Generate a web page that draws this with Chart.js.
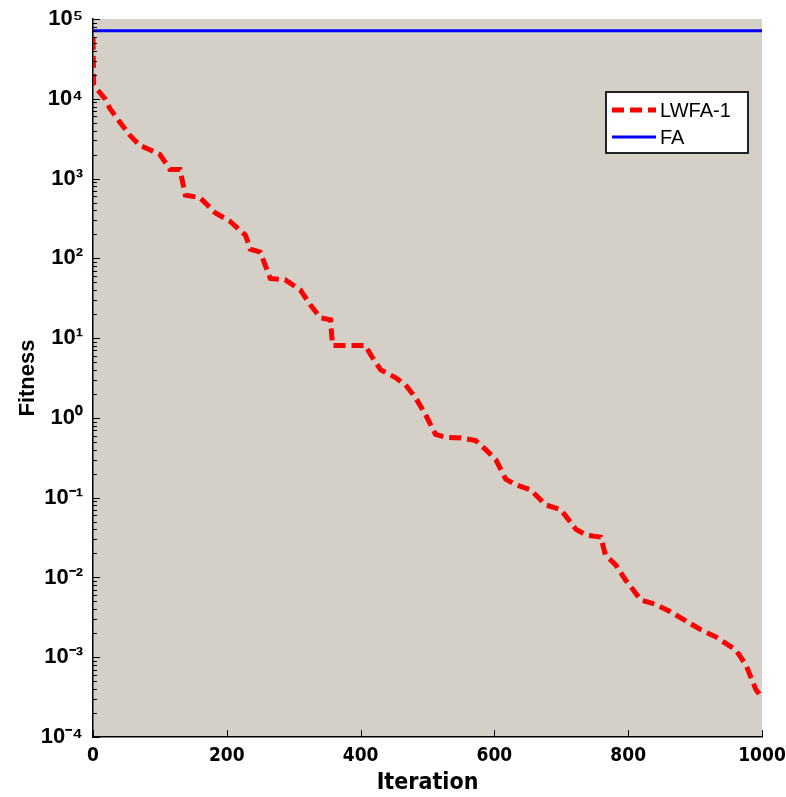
<!DOCTYPE html>
<html>
<head>
<meta charset="utf-8">
<script src="https://cdn.jsdelivr.net/npm/chart.js@4.4.1/dist/chart.umd.min.js"></script>
<style>
html,body{margin:0;padding:0;background:#fff;}
canvas{display:block;}
</style>
</head>
<body>
<canvas id="c" width="786" height="797"></canvas>
<script>
// ---- data ----
const lwfaIter = [0, 1, 3, 10, 18, 25, 40, 55, 70, 85, 100, 115, 130, 138, 160, 183, 205, 228, 235, 250, 265, 287, 310, 325, 340, 355, 358, 380, 407, 415, 430, 452, 467, 482, 497, 512, 527, 550, 572, 587, 602, 617, 632, 654, 677, 699, 722, 737, 759, 766, 781, 796, 819, 841, 864, 879, 909, 931, 961, 976, 991, 1000];
const lwfaFitness = [58000, 15000, 14000, 12000, 10000, 7600, 5100, 3500, 2600, 2300, 2000, 1300, 1300, 620, 575, 370, 290, 195, 130, 120, 56, 54, 40, 26, 18, 17, 8.1, 8.1, 8.1, 6.2, 4.0, 3.2, 2.6, 1.8, 1.1, 0.62, 0.57, 0.56, 0.52, 0.40, 0.30, 0.17, 0.145, 0.125, 0.081, 0.071, 0.040, 0.034, 0.032, 0.019, 0.0145, 0.0093, 0.0052, 0.0046, 0.0037, 0.0031, 0.0022, 0.0018, 0.00123, 0.0008, 0.00039, 0.00031];
const faIter = [0, 1000];
const faFitness = [71000, 71000];
const seriesNames = ['LWFA-1', 'FA'];
const xTicks = [0, 200, 400, 600, 800, 1000];
const yExponents = [-4, -3, -2, -1, 0, 1, 2, 3, 4, 5];

const sup = {'-':'\u207B','0':'\u2070','1':'\u00B9','2':'\u00B2','3':'\u00B3','4':'\u2074','5':'\u2075','6':'\u2076','7':'\u2077','8':'\u2078','9':'\u2079'};
const toSup = s => String(s).split('').map(ch => sup[ch] || ch).join('');

const narrowFont = '"Liberation Sans Narrow", "DejaVu Sans Condensed", "Liberation Sans", Arial, sans-serif';
const sansFont = '"Liberation Sans", Arial, sans-serif';

const plotBg = {
  id: 'plotBg',
  beforeDraw(chart) {
    const {ctx, chartArea: a} = chart;
    ctx.save();
    ctx.fillStyle = '#d4d0c8';
    ctx.fillRect(a.left, a.top, a.right - a.left, a.bottom - a.top);
    ctx.restore();
  }
};

const innerTicks = {
  id: 'innerTicks',
  afterDraw(chart) {
    const {ctx, chartArea: a} = chart;
    const xs = chart.scales.x, ys = chart.scales.y;
    ctx.save();
    ctx.strokeStyle = '#000';
    ctx.lineWidth = 1;
    ctx.beginPath();
    xTicks.forEach(v => {
      const px = Math.round(xs.getPixelForValue(v)) + 0.5;
      ctx.moveTo(px, a.bottom);
      ctx.lineTo(px, a.bottom - 7);
    });
    yExponents.forEach(k => {
      const py = Math.round(ys.getPixelForValue(Math.pow(10, k))) + 0.5;
      ctx.moveTo(a.left, py);
      ctx.lineTo(a.left + 7, py);
      if (k < 5) {
        for (let m = 2; m <= 9; m++) {
          const pm = Math.round(ys.getPixelForValue(m * Math.pow(10, k))) + 0.5;
          ctx.moveTo(a.left, pm);
          ctx.lineTo(a.left + 4, pm);
        }
      }
    });
    ctx.stroke();
    // legend box
    const bx = 606, by = 92, bw = 142, bh = 61;
    ctx.fillStyle = '#fff';
    ctx.fillRect(bx, by, bw, bh);
    ctx.strokeStyle = '#222';
    ctx.lineWidth = 2;
    ctx.strokeRect(bx, by, bw, bh);
    chart.data.datasets.forEach((ds, i) => {
      const yy = by + 18 + i * 27;
      ctx.strokeStyle = ds.borderColor;
      ctx.lineWidth = ds.borderWidth;
      ctx.setLineDash(ds.borderDash || []);
      ctx.beginPath();
      ctx.moveTo(bx + 6, yy);
      ctx.lineTo(bx + 50, yy);
      ctx.stroke();
      ctx.setLineDash([]);
      ctx.fillStyle = '#000';
      ctx.font = '20px "Liberation Sans", Arial, sans-serif';
      ctx.textBaseline = 'middle';
      ctx.fillText(ds.label, bx + 54, yy + 1);
    });
    ctx.restore();
  }
};

new Chart(document.getElementById('c'), {
  type: 'line',
  data: {
    datasets: [
      {
        label: seriesNames[0],
        data: lwfaIter.map((x, i) => ({x, y: lwfaFitness[i]})),
        borderColor: '#ff0000',
        borderWidth: 5,
        borderDash: [12, 6],
        pointRadius: 0,
        tension: 0,
        fill: false
      },
      {
        label: seriesNames[1],
        data: faIter.map((x, i) => ({x, y: faFitness[i]})),
        borderColor: '#0000ff',
        borderWidth: 3,
        pointRadius: 0,
        fill: false
      }
    ]
  },
  options: {
    responsive: false,
    animation: false,
    layout: {padding: {top: 19, right: 24, left: 0, bottom: 0}},
    plugins: {legend: {display: false}, tooltip: {enabled: false}},
    scales: {
      x: {
        type: 'linear',
        min: 0, max: 1000,
        afterBuildTicks: s => { s.ticks = xTicks.map(v => ({value: v})); },
        afterFit: s => { s.height = 60; s.paddingRight = 0; s.paddingLeft = 0; },
        grid: {display: false, drawTicks: false},
        border: {display: true, color: '#000', width: 1.5},
        ticks: {color: '#000', padding: 8, font: {family: narrowFont, size: 19, weight: 'bold'}, maxRotation: 0,
          callback: v => String(v)},
        title: {display: true, text: 'Iteration', color: '#000', padding: {top: 2, bottom: 0}, font: {family: narrowFont, size: 23, weight: 'bold'}}
      },
      y: {
        type: 'logarithmic',
        min: 1e-4, max: 1e5,
        afterBuildTicks: s => { s.ticks = yExponents.map(k => ({value: Math.pow(10, k)})); },
        afterFit: s => { s.width = 93; s.paddingTop = 0; s.paddingBottom = 0; },
        grid: {display: false, drawTicks: false},
        border: {display: true, color: '#000', width: 1.5},
        ticks: {
          color: '#000', padding: 10,
          font: {family: sansFont, size: 22, weight: 'bold'},
          callback: (v) => '10' + toSup(Math.round(Math.log10(v)))
        },
        title: {display: true, text: 'Fitness', color: '#000', padding: {top: 15, bottom: 0}, font: {family: sansFont, size: 22, weight: 'bold'}}
      }
    }
  },
  plugins: [plotBg, innerTicks]
});
</script>
</body>
</html>
